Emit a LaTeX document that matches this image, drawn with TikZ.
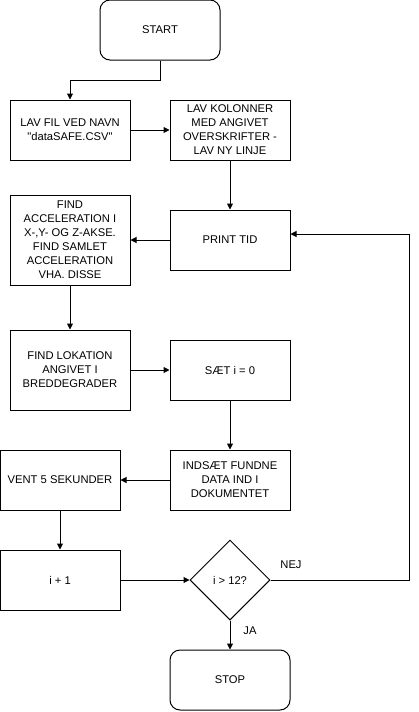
\documentclass[tikz,border=0pt]{standalone}
\usepackage{fontspec}
\setmainfont{Liberation Sans}
\usetikzlibrary{arrows.meta,shapes.geometric}
\begin{document}
\begin{tikzpicture}[x=1pt,y=-1pt,
    txt/.style={font=\fontsize{11.2}{14}\selectfont},
    box/.style={txt,draw,line width=1pt,minimum width=120pt,minimum height=60pt,align=center,inner sep=2pt},
    term/.style={box,rounded corners=10pt},
    cond/.style={txt,draw,diamond,line width=1pt,minimum width=80pt,minimum height=80pt,inner sep=0pt},
    flow/.style={line width=1pt,-{Triangle[length=6pt,width=6pt]}}]
    \useasboundingbox (0,0) rectangle (419,712);
    \node [term] (start) at (160,30) {START};
    \node [box] (file) at (70,130) {LAV FIL VED NAVN\\\textquotedbl dataSAFE.CSV\textquotedbl};
    \node [box] (cols) at (230,130) {LAV KOLONNER\\MED ANGIVET\\OVERSKRIFTER -\\LAV NY LINJE};
    \node [box] (print) at (230,240) {PRINT TID};
    \node [box,minimum height=90pt] (accel) at (70,240) {FIND\\ACCELERATION I\\X-,Y- OG Z-AKSE.\\FIND SAMLET\\ACCELERATION\\VHA. DISSE};
    \node [box,minimum height=80pt] (loc) at (70,370) {FIND LOKATION\\ANGIVET I\\BREDDEGRADER};
    \node [box] (zero) at (230,370) {SÆT i = 0};
    \node [box] (insert) at (230,480) {INDSÆT FUNDNE\\DATA IND I\\DOKUMENTET};
    \node [box] (wait) at (60,480) {VENT 5 SEKUNDER};
    \node [box] (incr) at (60,580) {i + 1};
    \node [cond] (check) at (230,580) {i > 12?};
    \node [term] (stop) at (230,680) {STOP};
    \coordinate (back) at (409,580);
    \draw [flow] (start.south) -- ++(0,20) -| (file.north);
    \draw [flow] (file) -- (cols);
    \draw [flow] (cols) -- (print);
    \draw [flow] (print) -- (accel);
    \draw [flow] (accel) -- (loc);
    \draw [flow] (loc) -- (zero);
    \draw [flow] (zero) -- (insert);
    \draw [flow] (insert) -- (wait);
    \draw [flow] (wait) -- (incr);
    \draw [flow] (incr) -- (check);
    \draw [flow] (check) -- (stop);
    \draw [flow] (check.east) -- (back) |- ([yshift=6pt]print.east);
    \node [txt] (nej) at (291,565) {NEJ};
    \node [txt] (ja) at (250,631) {JA};
\end{tikzpicture}
\end{document}
